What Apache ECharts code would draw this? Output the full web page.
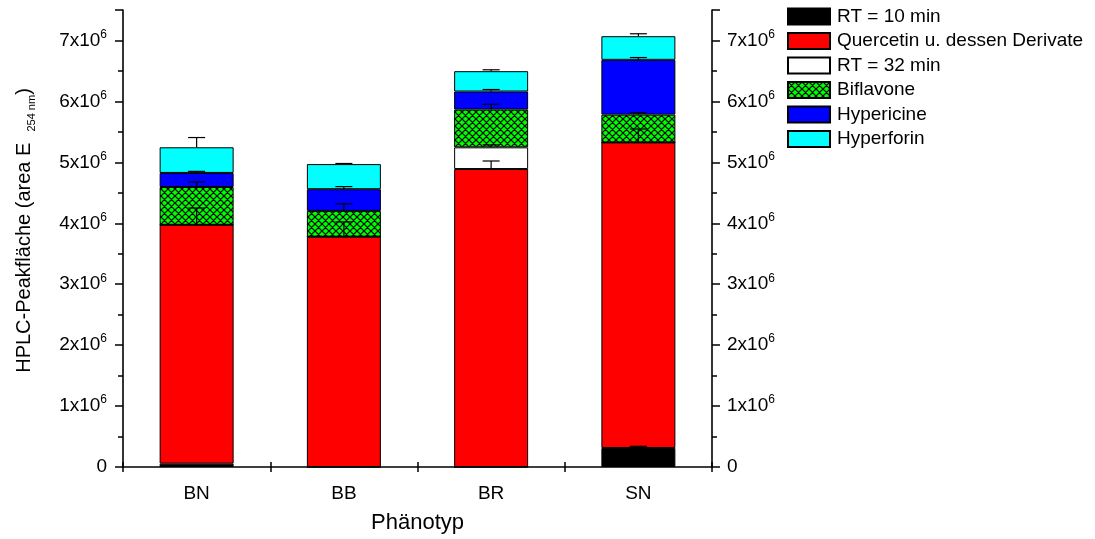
<!DOCTYPE html>
<html>
<head>
<meta charset="utf-8">
<script src="https://cdn.jsdelivr.net/npm/echarts@6/dist/echarts.min.js"></script>
<style>
  html, body { margin: 0; padding: 0; background: #fff; }
  #chart { width: 1095px; height: 539px; }
</style>
</head>
<body>
<div id="chart"></div>
<script>
// Phenotypes on the x axis
const categories = ['BN', 'BB', 'BR', 'SN'];

// Mean HPLC peak areas per compound group (stack order bottom to top)
const rt10       = [55000, 0, 0, 312000];
const quercetin  = [3920000, 3780000, 4890000, 5015000];
const rt32       = [0, 0, 356000, 0];
const biflavone  = [620000, 423000, 620000, 456000];
const hypericine = [231000, 356000, 296000, 899000];
const hyperforin = [421000, 412000, 334000, 388000];

// Upper error (standard deviation) for each segment
const rt10Err       = [0, 0, 0, 28000];
const quercetinErr  = [275000, 242000, 132000, 220000];
const rt32Err       = [0, 0, 40000, 0];
const biflavoneErr  = [82000, 115000, 87000, 33000];
const hypericineErr = [26000, 43000, 33000, 38000];
const hyperforinErr = [160000, 10000, 23000, 40000];

// Y tick values
const yTicks = [0, 1000000, 2000000, 3000000, 4000000, 5000000, 6000000, 7000000];

const FONT = 'Liberation Sans, Arial, sans-serif';

// Green cross-hatch fill for the biflavone segments
function hatchPattern() {
  const s = 7;
  const c = document.createElement('canvas');
  c.width = s; c.height = s;
  const g = c.getContext('2d');
  g.fillStyle = '#00ff00';
  g.fillRect(0, 0, s, s);
  g.strokeStyle = '#000';
  g.lineWidth = 1.2;
  g.beginPath();
  for (let o = -s; o <= s; o += s) {
    g.moveTo(o - 1, -1); g.lineTo(o + s + 1, s + 1);
    g.moveTo(o + s + 1, -1); g.lineTo(o - 1, s + 1);
  }
  g.stroke();
  return c;
}

const groups = [
  { name: 'RT = 10 min', values: rt10, err: rt10Err, color: '#000000' },
  { name: 'Quercetin u. dessen Derivate', values: quercetin, err: quercetinErr, color: '#ff0000' },
  { name: 'RT = 32 min', values: rt32, err: rt32Err, color: '#ffffff' },
  { name: 'Biflavone', values: biflavone, err: biflavoneErr, color: { image: hatchPattern(), repeat: 'repeat' } },
  { name: 'Hypericine', values: hypericine, err: hypericineErr, color: '#0000ff' },
  { name: 'Hyperforin', values: hyperforin, err: hyperforinErr, color: '#00ffff' }
];

const barSeries = groups.map(gp => ({
  name: gp.name,
  type: 'bar',
  stack: 'total',
  barWidth: 74,
  data: gp.values,
  itemStyle: { color: gp.color, borderColor: '#000', borderWidth: 1 },
  emphasis: { disabled: true }
}));

// Error bars sit on the cumulative top of each segment
const errData = [];
const cum = categories.map(() => 0);
groups.forEach(gp => {
  categories.forEach((c, i) => {
    cum[i] += gp.values[i];
    if (gp.values[i] > 0 && gp.err[i] > 0) errData.push([i, cum[i], gp.err[i]]);
  });
});

const errSeries = {
  type: 'custom',
  name: 'err',
  z: 10,
  silent: true,
  encode: { x: 0, y: 1 },
  data: errData,
  renderItem: function (params, api) {
    const base = api.coord([api.value(0), api.value(1)]);
    const top = api.coord([api.value(0), api.value(1) + api.value(2)]);
    const hw = 8.5;
    const st = { stroke: '#000', lineWidth: 1.2 };
    return {
      type: 'group',
      children: [
        { type: 'line', shape: { x1: base[0], y1: base[1], x2: top[0], y2: top[1] }, style: st },
        { type: 'line', shape: { x1: top[0] - hw, y1: top[1], x2: top[0] + hw, y2: top[1] }, style: st }
      ]
    };
  }
};

function yLabel(v) {
  if (v === 0) return '0';
  return '{a|' + (v / 1000000) + 'x10}{b|6}';
}

const yLabelStyle = {
  color: '#000',
  fontFamily: FONT,
  fontSize: 19,
  formatter: yLabel,
  customValues: yTicks,
  rich: {
    a: { fontFamily: FONT, fontSize: 19, color: '#000', lineHeight: 24 },
    b: { fontFamily: FONT, fontSize: 12, color: '#000', lineHeight: 13, verticalAlign: 'top' }
  }
};

const yCommon = {
  type: 'value',
  min: 0,
  max: 7500000,
  interval: 1000000,
  splitLine: { show: false },
  axisLine: { show: true, lineStyle: { color: '#000', width: 1.6 } },
  axisTick: { show: true, length: 8, lineStyle: { color: '#000', width: 1.5 } },
  minorTick: { show: true, splitNumber: 2, length: 5, lineStyle: { color: '#000', width: 1.5 } }
};

const option = {
  animation: false,
  backgroundColor: '#fff',
  grid: { left: 123, right: 383, top: 10, bottom: 72 },
  legend: {
    orient: 'vertical',
    left: 787,
    top: 7,
    padding: 0,
    itemWidth: 42,
    itemHeight: 16,
    itemGap: 5.5,
    icon: 'rect',
    selectedMode: false,
    data: groups.map(g => g.name),
    textStyle: { fontFamily: FONT, fontSize: 19, lineHeight: 19, color: '#000', padding: [0, 0, 0, 2] }
  },
  xAxis: [
    {
      type: 'category',
      data: categories,
      name: 'Phänotyp',
      nameLocation: 'middle',
      nameGap: 45,
      nameTextStyle: { fontFamily: FONT, fontSize: 22, color: '#000' },
      axisLine: { lineStyle: { color: '#000', width: 1.6 } },
      axisTick: { show: true, length: 5, lineStyle: { color: '#000', width: 1.5 } },
      axisLabel: { fontFamily: FONT, fontSize: 19, color: '#000', margin: 17 }
    },
    {
      type: 'category',
      data: categories,
      position: 'bottom',
      axisLine: { show: false },
      axisTick: { show: true, inside: true, length: 5, lineStyle: { color: '#000', width: 1.5 } },
      axisLabel: { show: false }
    }
  ],
  yAxis: [
    Object.assign({}, yCommon, {
      position: 'left',
      name: '{n|HPLC-Peakfläche (area E  }{s|254 nm}{n|)}',
      nameLocation: 'middle',
      nameGap: 86,
      nameRotate: 90,
      nameTextStyle: {
        padding: [0, 0, 0, 16],
        rich: {
          n: { fontFamily: FONT, fontSize: 20, color: '#000', lineHeight: 25 },
          s: { fontFamily: FONT, fontSize: 11, color: '#000', lineHeight: 13, verticalAlign: 'bottom' }
        }
      },
      axisLabel: Object.assign({}, yLabelStyle, { margin: 16 })
    }),
    Object.assign({}, yCommon, {
      position: 'right',
      axisLabel: Object.assign({}, yLabelStyle, { margin: 15 })
    })
  ],
  series: barSeries.concat([errSeries])
};

const chart = echarts.init(document.getElementById('chart'), null, { renderer: 'canvas' });
chart.setOption(option);
</script>
</body>
</html>
